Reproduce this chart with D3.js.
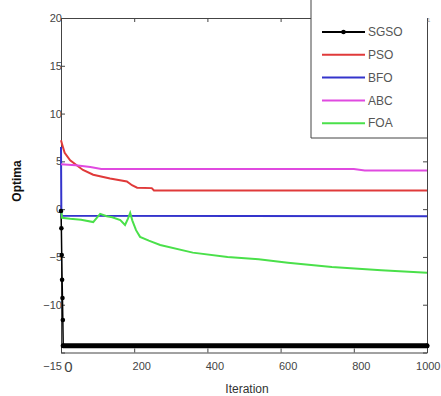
<!DOCTYPE html>
<html>
<head>
<meta charset="utf-8">
<script src="https://cdn.jsdelivr.net/npm/d3@7"></script>
<style>
  body { margin: 0; background: #fff; }
  svg text { font-family: "Liberation Sans", Arial, sans-serif; }
</style>
</head>
<body>
<script>
// series: [iteration, optimum]
const sgso = [[0, -0.2], [1, -2.0], [2, -4.8], [3, -7.4], [4, -9.3], [5, -11.6], [6, -14.3], [1000, -14.3]]
const pso = [[0, 7.2], [3, 6.8], [10, 5.9], [25, 5.1], [60, 4.1], [88, 3.6], [134, 3.2], [180, 2.9],
  [194, 2.5], [208, 2.25], [248, 2.2], [254, 1.95], [1000, 1.95]]
const bfo = [[0, 6.5], [1, -0.7], [1000, -0.75]]
const abc = [[0, 4.7], [40, 4.6], [80, 4.4], [110, 4.2], [800, 4.2], [830, 4.05], [1000, 4.05]]
const foa = [[0, -0.1], [3, -0.9], [25, -1.0], [55, -1.1], [88, -1.35], [100, -0.8], [107, -0.5],
  [125, -0.75], [140, -0.85], [162, -1.15], [175, -1.65], [183, -1.0], [189, -0.4], [195, -1.2],
  [205, -2.2], [216, -2.9], [240, -3.3], [271, -3.75], [360, -4.55], [455, -5.0], [540, -5.25],
  [620, -5.6], [740, -6.05], [875, -6.4], [1000, -6.65]]

const names = ["SGSO", "PSO", "BFO", "ABC", "FOA"]
const colors = ["#000000", "#e03a3a", "#3434cc", "#e04ae0", "#4ae04a"]
const xTicks = [0, 200, 400, 600, 800, 1000]
const yTicks = [20, 15, 10, 5, 0, -5, -10, -15]

const W = 441, H = 396
const m = {left: 61, right: 427, top: 18, bottom: 352.5}

const svg = d3.select("body").append("svg")
    .attr("width", W)
    .attr("height", H)

const x = d3.scaleLinear().domain([0, 1000]).range([m.left, m.right])
const y = d3.scaleLinear().domain([-15, 20]).range([m.bottom, m.top])

// axes box: ticks point inward on every side
svg.append("g")
    .attr("transform", `translate(0,${m.bottom})`)
    .call(d3.axisBottom(x).tickValues(xTicks).tickFormat(d3.format("d"))
      .tickSizeInner(-4).tickSizeOuter(0).tickPadding(10))
    .call(g => g.selectAll("text").attr("dx", 7))
    .call(g => g.selectAll(".tick text").filter(d => d === 0).style("font-size", "15px").attr("dy", "0.6em"))
    .call(g => g.selectAll(".tick text").filter(d => d === 1000).attr("text-anchor", "end").attr("dx", 13))

svg.append("g")
    .attr("transform", `translate(0,${m.top})`)
    .call(d3.axisTop(x).tickValues(xTicks).tickSizeInner(-4).tickSizeOuter(0).tickFormat(""))

svg.append("g")
    .attr("transform", `translate(${m.left},0)`)
    .call(d3.axisLeft(y).tickValues(yTicks).tickSizeInner(-4).tickSizeOuter(0).tickPadding(-1))
    .call(g => g.selectAll(".tick text").filter(d => d === -15).attr("dy", "1.5em"))

svg.append("g")
    .attr("transform", `translate(${m.right},0)`)
    .call(d3.axisRight(y).tickValues(yTicks).tickSizeInner(-4).tickSizeOuter(0).tickFormat(""))

svg.selectAll(".domain").attr("stroke", "#444")
svg.selectAll(".tick line").attr("stroke", "#444")
svg.selectAll(".tick text").attr("fill", "#444").style("font-size", function () {
  return this.style.fontSize || "11px"
})

const line = d3.line().x(d => x(d[0])).y(d => y(d[1]))

const series = [sgso, pso, bfo, abc, foa]
series.forEach((s, i) => {
  svg.append("path")
      .datum(s)
      .attr("fill", "none")
      .attr("stroke", colors[i])
      .attr("stroke-width", i === 0 ? 1.5 : 2)
      .attr("d", line)
})

// SGSO markers; the flat tail is a solid run of overlapping dots
svg.append("path")
    .datum(sgso.filter(d => d[0] >= 6))
    .attr("fill", "none")
    .attr("stroke", "#000")
    .attr("stroke-width", 5)
    .attr("stroke-linecap", "round")
    .attr("d", line)

svg.selectAll(".dot")
    .data(sgso)
  .enter().append("circle")
    .attr("class", "dot")
    .attr("cx", d => x(d[0]))
    .attr("cy", d => y(d[1]))
    .attr("r", 2.3)
    .attr("fill", "#000")

// legend
const lg = svg.append("g")
lg.append("rect")
    .attr("x", 311).attr("y", -2)
    .attr("width", m.right - 311).attr("height", 140)
    .attr("fill", "#fff")
lg.append("path")
    .attr("d", `M311,0V138H${m.right}`)
    .attr("fill", "none")
    .attr("stroke", "#444")

names.forEach((n, i) => {
  const ly = 32 + i * 22.8
  lg.append("line")
      .attr("x1", 322).attr("x2", 365)
      .attr("y1", ly).attr("y2", ly)
      .attr("stroke", colors[i])
      .attr("stroke-width", 2)
  if (i === 0) {
    lg.append("circle").attr("cx", 343.5).attr("cy", ly).attr("r", 2.3).attr("fill", "#000")
  }
  lg.append("text")
      .attr("x", 368).attr("y", ly)
      .attr("dy", "0.35em")
      .attr("fill", "#555")
      .style("font-size", "12px")
      .text(n)
})
lg.append("text")
    .attr("x", 427).attr("y", 22)
    .attr("fill", "#999")
    .style("font-size", "6px")
    .text("1")

// axis titles
svg.append("text")
    .attr("x", 247).attr("y", 393)
    .attr("text-anchor", "middle")
    .attr("fill", "#333")
    .style("font-size", "12px")
    .text("Iteration")

svg.append("text")
    .attr("transform", "translate(21,181) rotate(-90)")
    .attr("text-anchor", "middle")
    .attr("fill", "#111")
    .style("font-size", "12px")
    .style("font-weight", "bold")
    .text("Optima")
</script>
</body>
</html>
